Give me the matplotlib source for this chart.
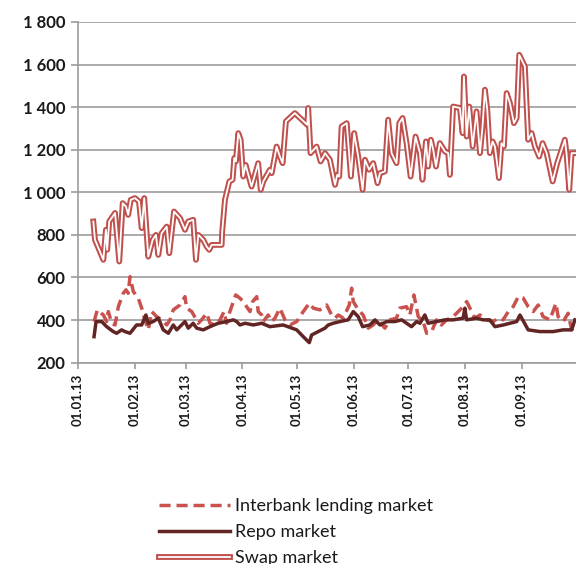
import matplotlib
matplotlib.use("Agg")
import matplotlib.pyplot as plt
import matplotlib.dates as mdates
import matplotlib.patheffects as pe
import pandas as pd
import numpy as np

# ---------------- data (days since 01.01.2013, value) ----------------
swap_day = [8.4, 9.3, 13.9, 15.3, 16.0, 17.1, 20.3, 22.6, 24.5, 26.3, 27.5, 28.9, 31.2, 33.4, 34.9,
            36.3, 38.5, 40.9, 42.7, 44.0, 45.8, 48.6, 50.0, 52.6, 55.9, 58.6, 60.4, 63.1, 64.6, 65.9,
            68.6, 70.5, 71.9, 73.2, 78.7, 79.0, 80.5, 82.9, 84.7, 85.6, 86.5, 87.8, 89.1, 90.5, 91.8,
            95.1, 98.7, 100.1, 101.5, 105.1, 106.1, 108.8, 110.6, 112.1, 113.9, 118.8, 125.6, 126.1,
            127.4, 130.7, 132.9, 134.4, 135.3, 138.0, 140.8, 142.0, 143.1, 144.4, 147.2, 149.5, 151.3,
            153.5, 155.9, 157.2, 159.5, 161.7, 164.1, 165.4, 168.1, 169.9, 171.8, 174.5, 176.0, 177.8,
            180.0, 182.2, 184.9, 187.3, 188.7, 190.6, 191.8, 193.3, 194.6, 196.1, 198.2, 201.0, 202.8,
            203.7, 205.5, 209.2, 210.7, 211.4, 212.9, 214.3, 216.2, 218.3, 220.2, 221.6, 222.9, 224.2,
            225.6, 227.1, 228.4, 230.6, 232.0, 233.3, 234.8, 236.6, 238.8, 240.3, 241.7, 244.8, 246.6,
            248.5, 250.3, 252.6, 254.5, 256.7, 260.0, 262.5, 266.7, 267.6, 269.1, 270.4, 272.7]
swap_val = [863, 777, 683, 824, 730, 863, 903, 675, 949, 933, 894, 965, 973, 957, 832,
            973, 698, 777, 800, 706, 808, 839, 714, 910, 879, 824, 863, 871, 683, 800,
            777, 745, 730, 753, 753, 816, 965, 1051, 1059, 1161, 1145, 1278, 1247, 1074, 1129,
            1027, 1137, 1012, 1051, 1106, 1090, 1215, 1168, 1137, 1333, 1372, 1317, 1396,
            1184, 1215, 1145, 1168, 1184, 1153, 1035, 1082, 1074, 1309, 1325, 1074, 1278,
            1168, 1012, 1153, 1106, 1137, 1043, 1090, 1098, 1341, 1184, 1137, 1325, 1349,
            1231, 1074, 1262, 1184, 1059, 1239, 1121, 1247, 1200, 1121, 1231, 1192, 1184,
            1082, 1403, 1396, 1278, 1544, 1262, 1403, 1215, 1380, 1184, 1309, 1482, 1388,
            1184, 1239, 1215, 1067, 1231, 1215, 1466, 1419, 1325, 1349, 1646, 1591, 1247,
            1278, 1215, 1168, 1231, 1184, 1051, 1137, 1247, 1184, 1012, 1184, 1184]

repo_day = [8.8, 9.9, 13.0, 15.7, 19.3, 21.2, 23.9, 25.7, 28.5, 32.1, 34.9, 37.2, 38.5, 41.2, 44.0,
            46.7, 49.5, 52.2, 54.1, 58.6, 60.4, 63.1, 65.0, 68.6, 72.3, 76.8, 81.4, 85.1, 86.9, 88.7,
            91.5, 96.0, 100.6, 105.1, 112.4, 119.8, 123.4, 126.7, 128.0, 131.6, 135.3, 137.1, 139.8,
            143.5, 148.0, 150.8, 153.5, 155.9, 159.9, 162.7, 165.4, 169.1, 173.6, 177.3, 180.0, 182.7,
            185.5, 187.3, 190.0, 191.8, 196.4, 201.0, 205.5, 211.0, 211.9, 212.9, 218.3, 221.9, 225.6,
            228.4, 233.0, 236.6, 240.3, 242.1, 246.6, 253.0, 260.3, 265.8, 270.4, 272.2]
repo_val = [322, 393, 393, 369, 346, 338, 354, 346, 338, 377, 377, 424, 385, 393, 409,
            354, 338, 377, 354, 393, 362, 385, 362, 354, 369, 385, 393, 401, 393, 377,
            385, 377, 385, 369, 377, 354, 322, 294, 330, 346, 362, 377, 385,
            393, 401, 440, 416, 369, 377, 401, 377, 393, 393, 401, 385, 369,
            393, 385, 424, 385, 393, 401, 401, 409, 456, 401, 409, 401, 401,
            369, 377, 385, 393, 424, 354, 346, 346, 354, 354, 401]

interbank_day = [8.8, 10.6, 13.9, 15.7, 16.6, 18.5, 20.3, 22.1, 24.8, 26.3, 27.5, 28.5, 30.3, 33.0,
                 34.9, 36.7, 38.5, 40.4, 43.1, 45.8, 48.6, 50.4, 52.2, 55.9, 58.6, 59.5, 62.3, 65.9,
                 67.7, 70.5, 72.3, 75.0, 77.8, 80.0, 81.4, 83.2, 86.4, 88.7, 90.5, 94.2, 95.7, 97.9,
                 98.7, 100.6, 101.5, 104.2, 106.1, 107.9, 110.6, 113.4, 116.1, 119.8, 123.4, 126.7,
                 128.9, 132.5, 136.2, 138.9, 140.8, 142.6, 145.3, 148.6, 149.9, 150.8, 153.5, 156.2,
                 159.0, 161.7, 164.4, 168.1, 170.9, 174.5, 176.3, 180.0, 181.8, 184.0, 186.4, 189.1,
                 191.0, 193.7, 196.4, 199.1, 201.9, 205.5, 208.3, 211.0, 212.9, 214.7, 217.4, 220.2,
                 223.8, 227.4, 230.2, 232.9, 235.7, 238.4, 241.2, 243.9, 246.6, 249.4, 252.1, 254.8,
                 258.5, 261.8, 263.0, 265.8, 268.5, 270.4, 272.7]
interbank_val = [393, 448, 424, 393, 440, 385, 377, 463, 526, 542, 526, 604, 534, 503,
                 456, 401, 354, 440, 416, 401, 377, 401, 448, 471, 510, 456, 440, 385,
                 401, 432, 385, 377, 401, 440, 385, 440, 518, 503, 487, 440, 487, 510,
                 440, 424, 393, 424, 393, 409, 456, 401, 377, 393, 440, 479,
                 456, 448, 471, 424, 409, 424, 409, 471, 550, 487, 448, 424,
                 362, 377, 401, 362, 401, 409, 456, 463, 424, 518, 416, 393,
                 338, 346, 401, 377, 401, 416, 440, 463, 487, 456, 409, 424,
                 401, 393, 409, 401, 440, 463, 510, 503, 463, 440, 471, 416,
                 401, 479, 416, 393, 432, 354, 377]

month_labels = ["01.01.13", "01.02.13", "01.03.13", "01.04.13", "01.05.13",
                "01.06.13", "01.07.13", "01.08.13", "01.09.13"]
y_ticks = [200, 400, 600, 800, 1000, 1200, 1400, 1600, 1800]
y_labels = ["200", "400", "600", "800", "1 000", "1 200", "1 400", "1 600", "1 800"]
series_names = ["Interbank lending market", "Repo market", "Swap market"]

# ---------------- plotting ----------------
plt.rcParams["font.family"] = ["Lato", "DejaVu Sans"]

base = mdates.date2num(pd.Timestamp("2013-01-01").to_pydatetime())
def to_x(days):
    return base + np.asarray(days, dtype=float)

fig = plt.figure(figsize=(5.76, 5.64), dpi=100)
ax = fig.add_axes([0.1354, 0.357, 1.0 - 0.1354, 0.961 - 0.357])

red = "#C0504D"
dark = "#632523"
grid_c = "#9C9C9C"

ax.plot(to_x(interbank_day), interbank_val, color="#C9524F", lw=2.5,
        linestyle=(0, (3.2, 1.7)), label=series_names[0], zorder=3)
ax.plot(to_x(repo_day), repo_val, color=dark, lw=2.5, label=series_names[1], zorder=4,
        solid_joinstyle="round")
ax.plot(to_x(swap_day), swap_val, color="white", lw=1.3, label=series_names[2], zorder=5,
        solid_joinstyle="round",
        path_effects=[pe.Stroke(linewidth=4.2, foreground=red), pe.Normal()])

ax.set_ylim(200, 1800)
ax.set_yticks(y_ticks)
ax.set_yticklabels(y_labels, fontsize=12, fontweight="bold", color="#1a1a1a")

tick_x = [mdates.date2num(pd.to_datetime(s, format="%d.%m.%y").to_pydatetime()) for s in month_labels]
ax.set_xticks(tick_x)
ax.set_xticklabels(month_labels, rotation=90, fontsize=9.5, fontweight="bold", color="#1a1a1a")
ax.set_xlim(base, base + 272.8)

ax.yaxis.grid(True, color=grid_c, lw=1.2)
ax.set_axisbelow(True)
for s in ["top", "right"]:
    ax.spines[s].set_visible(False)
ax.spines["left"].set_color(grid_c)
ax.spines["bottom"].set_color(grid_c)
ax.spines["left"].set_linewidth(1.2)
ax.spines["bottom"].set_linewidth(1.2)
ax.tick_params(axis="y", length=5, color=grid_c, width=1.2, pad=4)
ax.tick_params(axis="x", length=4, color=grid_c, width=1.2, pad=4)

leg = fig.legend(loc="upper left", bbox_to_anchor=(152 / 576, 1 - 491 / 564),
                 frameon=False, fontsize=13, handlelength=3.9, handletextpad=0.3,
                 labelspacing=0.55, borderaxespad=0)
for t in leg.get_texts():
    t.set_color("#1a1a1a")

fig.savefig("out.png", dpi=100)
